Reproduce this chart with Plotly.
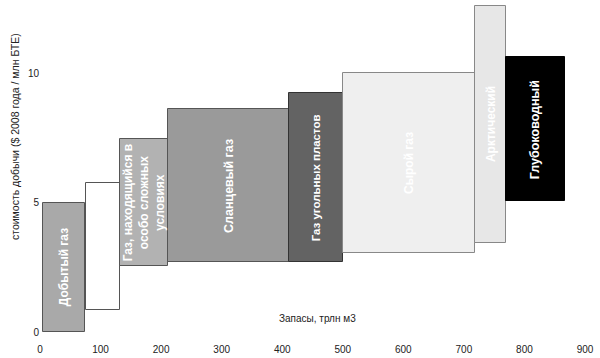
import plotly.graph_objects as go

# Data (x in reserves units, y in cost units)
categories = ["Добытый газ", "", "Газ, находящийся в<br>особо сложных<br>условиях",
              "Сланцевый газ", "Газ угольных пластов", "Сырой газ",
              "Арктический", "Глубоководный"]
x_left = [5, 76, 132, 211, 411, 500, 718, 770]
x_right = [74, 132, 211, 411, 500, 718, 770, 867]
cost_low = [0, 0.85, 2.54, 2.7, 2.7, 3.04, 3.42, 5.04]
cost_high = [5.0, 5.77, 7.46, 8.6, 9.23, 10.0, 12.6, 10.6]
x_ticks = [0, 100, 200, 300, 400, 500, 600, 700, 800, 900]
y_ticks = [0, 5, 10]

# Styles
fill_colors = ["#a9a9a9", "#ffffff", "#b2b2b2", "#9a9a9a", "#636363",
               "#efefef", "#e7e7e7", "#000000"]
line_colors = ["#555555", "#555555", "#555555", "#555555", "#333333",
               "#888888", "#888888", "#000000"]
label_sizes = [12, 11, 12, 12.5, 11.5, 12, 12, 12.5]

centers = [(l + r) / 2 for l, r in zip(x_left, x_right)]
widths = [r - l for l, r in zip(x_left, x_right)]
heights = [h - b for h, b in zip(cost_high, cost_low)]

FONT = "Liberation Sans, Arial"

fig = go.Figure()
fig.add_trace(go.Bar(
    x=centers, y=heights, base=cost_low, width=widths,
    marker=dict(color=fill_colors, line=dict(color=line_colors, width=1)),
    hoverinfo="skip", showlegend=False,
))

for cx, lo, hi, label, fs in zip(centers, cost_low, cost_high, categories, label_sizes):
    if not label:
        continue
    fig.add_annotation(
        x=cx, y=(lo + hi) / 2, text="<b>" + label + "</b>", textangle=-90,
        showarrow=False, font=dict(family=FONT, size=fs, color="white"),
        xref="x", yref="y",
    )

fig.add_annotation(
    x=-0.046, y=0.59, xref="paper", yref="paper", xanchor="center", yanchor="middle",
    text="стоимость добычи ($ 2008 года / млн БТЕ)", textangle=-90, showarrow=False,
    font=dict(family=FONT, size=10.5, color="#222222"),
)
fig.add_annotation(
    x=459, y=0.54, xref="x", yref="y",
    text="Запасы, трлн м3", showarrow=False,
    font=dict(family=FONT, size=10, color="#222222"),
)

fig.update_layout(
    width=600, height=358,
    margin=dict(l=40, r=15, t=0, b=26),
    paper_bgcolor="white", plot_bgcolor="white",
    bargap=0,
    xaxis=dict(range=[0, 900], tickvals=x_ticks, showgrid=False, zeroline=False,
               showline=False, ticks="outside", ticklen=8, tickcolor="rgba(0,0,0,0)",
               automargin=False,
               tickfont=dict(family=FONT, size=10, color="#222222")),
    yaxis=dict(range=[0, 12.82], tickvals=y_ticks, showgrid=False, zeroline=False,
               showline=False, ticks="", automargin=False,
               tickfont=dict(family=FONT, size=10, color="#222222")),
)

fig.write_html("out.html", config={"displayModeBar": False},
               post_script="document.body.style.margin='0';")
